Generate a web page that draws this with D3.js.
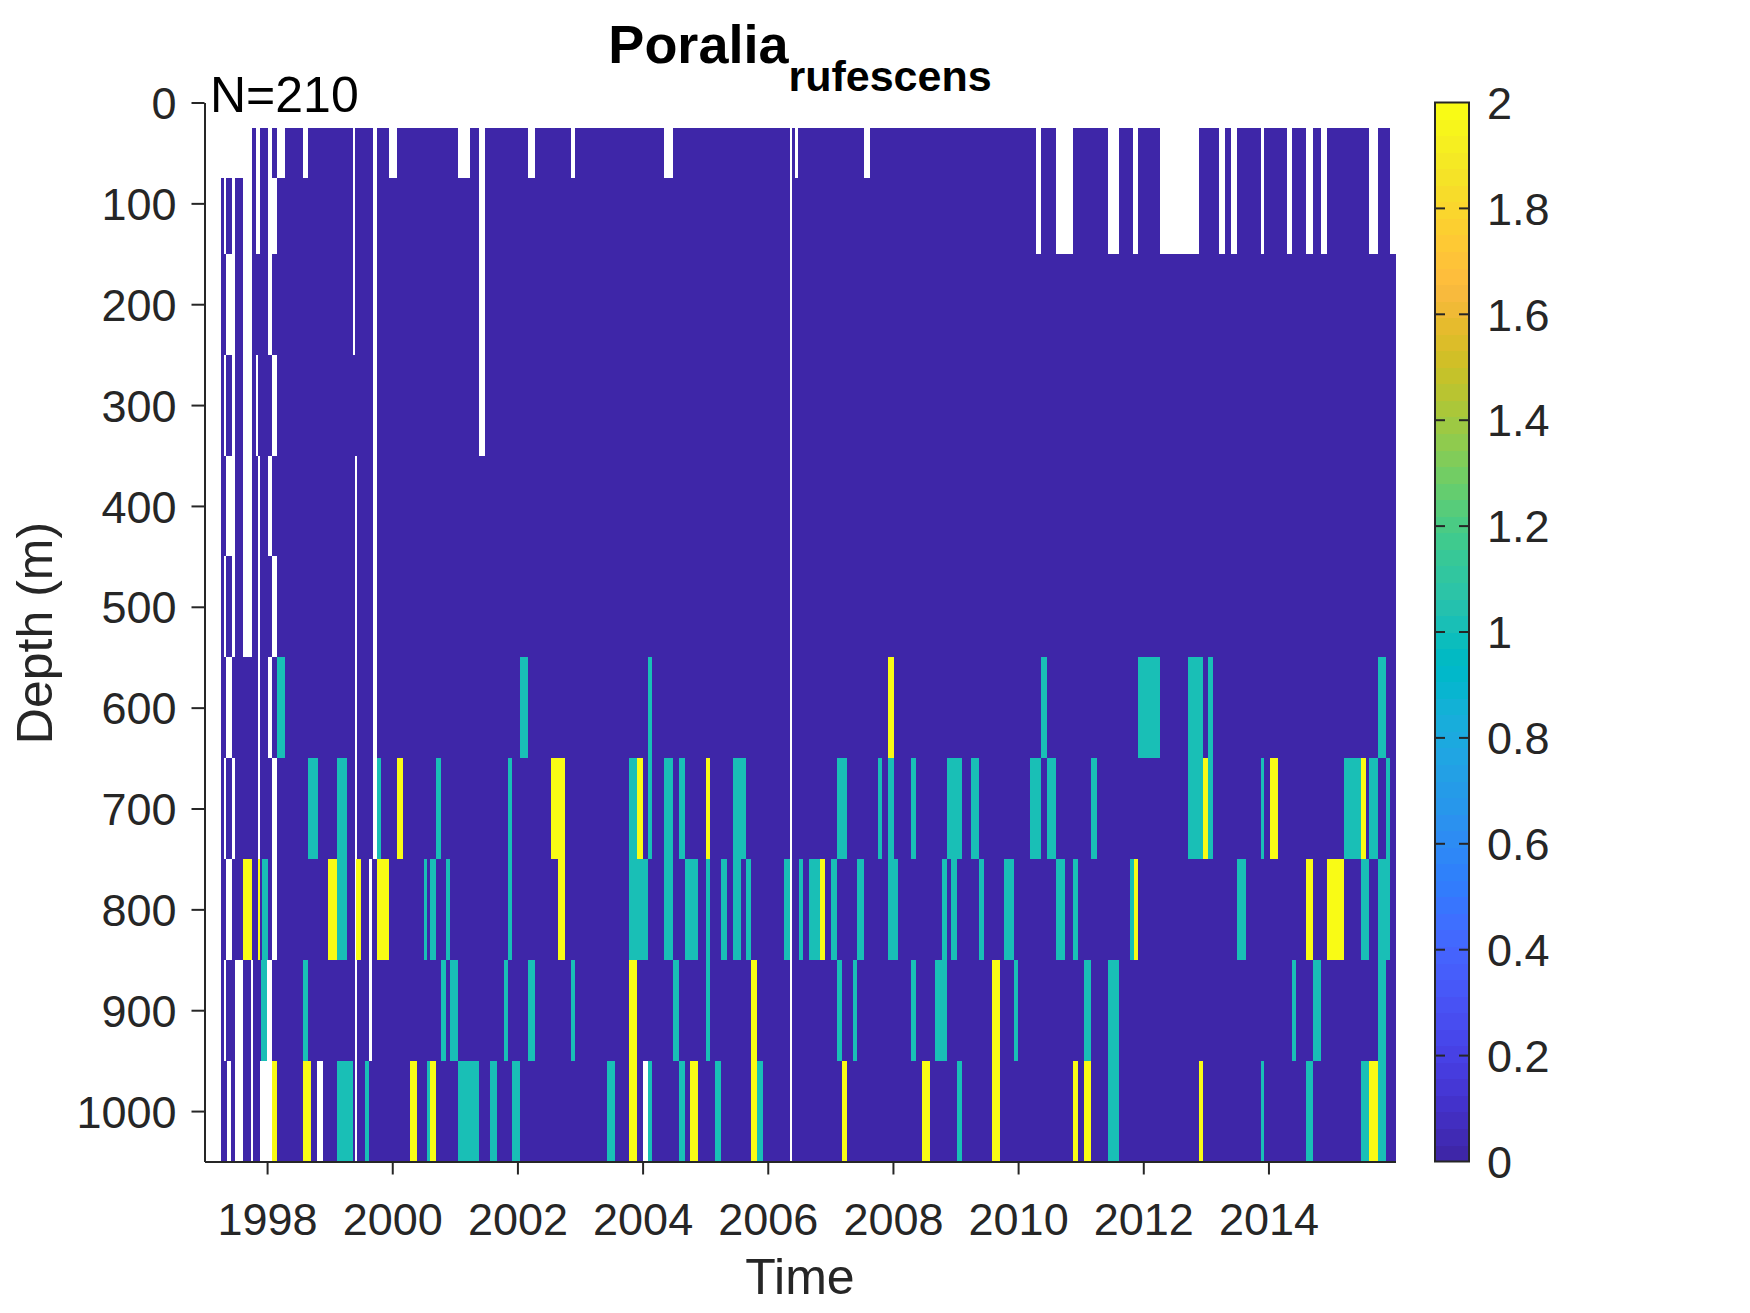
<!DOCTYPE html>
<html><head><meta charset="utf-8">
<script src="https://cdn.jsdelivr.net/npm/d3@7"></script>
<style>body{margin:0;background:#fff}svg{display:block}text{font-family:"Liberation Sans",Arial,Helvetica,sans-serif}</style>
</head><body>
<svg id="chart" width="1750" height="1313"></svg>
<script>
// ---------------- DATA ----------------
const depthEdges = [25,75,150,250,350,450,550,650,750,850,950,1050];
const rowStart = [1997.757,1997.256,1997.256,1997.256,1997.256,1997.256,1997.256,1997.256,1997.256,1997.256,1997.256];
const rowEnd   = [2015.944,2015.944,2016.04,2016.04,2016.04,2016.04,2016.04,2016.04,2016.04,2016.04,2016.04];
// [firstRow, lastRow, t0, t1]  -> no sample (NaN, white)
const noDataGaps = [
 [0,0,1997.816,1997.88],[0,0,1998.013,1998.072],[0,0,1998.152,1998.28],[0,0,1998.573,1998.648],
 [0,2,1999.373,1999.40],[0,7,1999.687,1999.756],[0,0,1999.949,2000.077],
 [0,0,2001.048,2001.24],[0,3,2001.384,2001.48],[0,0,2002.168,2002.28],[0,0,2002.856,2002.92],
 [0,0,2004.344,2004.488],[0,10,2006.35,2006.385],[0,0,2006.44,2006.49],[0,0,2007.544,2007.64],
 [0,1,2010.28,2010.36],[0,1,2010.6,2010.872],[0,1,2011.432,2011.608],[0,1,2011.843,2011.917],
 [0,1,2012.264,2012.888],[0,1,2013.208,2013.304],[0,1,2013.395,2013.496],[0,1,2013.875,2013.928],
 [0,1,2014.29,2014.376],[0,1,2014.6,2014.712],[0,1,2014.84,2014.936],[0,1,2015.608,2015.752],
 [1,1,1997.309,1997.347],[1,1,1997.432,1997.48],[1,1,1997.613,1997.757],[1,1,1997.816,1997.88],[1,1,1998.013,1998.152],
 [2,2,1997.347,1997.48],[2,2,1997.613,1997.757],[2,2,1998.013,1998.072],
 [3,3,1997.309,1997.347],[3,3,1997.432,1997.48],[3,3,1997.613,1997.757],[3,3,1997.816,1997.848],[3,3,1998.072,1998.152],
 [4,4,1997.347,1997.48],[4,4,1997.613,1997.757],[4,4,1997.848,1997.88],[4,4,1998.013,1998.072],
 [5,5,1997.309,1997.347],[5,5,1997.432,1997.48],[5,5,1997.613,1997.757],[5,5,1997.848,1997.88],[5,5,1998.072,1998.152],
 [6,6,1997.347,1997.432],[6,6,1997.848,1997.88],[6,6,1998.013,1998.072],
 [7,7,1997.309,1997.347],[7,7,1997.432,1997.48],[7,7,1997.848,1997.88],[7,7,1998.072,1998.152],
 [8,8,1997.347,1997.432],[8,8,1998.072,1998.152],
 [9,9,1997.309,1997.347],[9,9,1997.48,1997.613],[9,9,1997.747,1997.773],[9,9,1998.003,1998.077],
 [10,10,1997.352,1997.427],[10,10,1997.48,1997.613],[10,10,1997.747,1997.773],[10,10,1997.88,1998.077],[10,10,1998.803,1998.899],
 [4,10,1999.40,1999.437],[8,9,1999.63,1999.677],[10,10,2004.008,2004.083]
];
// [row, t0, t1] cells with value 1
const valueOneCells = [
 [6,1998.152,1998.28],[6,2002.04,2002.163],[6,2004.093,2004.147],[6,2010.36,2010.456],[6,2011.912,2012.264],
 [6,2012.712,2012.952],[6,2013.032,2013.112],[6,2015.752,2015.88],
 [7,1998.648,1998.808],[7,1999.112,1999.272],[7,1999.756,1999.816],[7,2000.696,2000.776],[7,2001.853,2001.907],
 [7,2003.784,2003.912],[7,2004.093,2004.147],[7,2004.344,2004.488],[7,2004.584,2004.68],[7,2005.448,2005.656],
 [7,2007.112,2007.272],[7,2007.768,2007.832],[7,2007.928,2008.024],[7,2008.296,2008.376],[7,2008.856,2009.096],
 [7,2009.24,2009.368],[7,2010.184,2010.36],[7,2010.456,2010.6],[7,2011.16,2011.256],[7,2012.712,2012.952],
 [7,2013.032,2013.112],[7,2013.88,2013.928],[7,2015.208,2015.48],[7,2015.608,2015.752],[7,2015.88,2015.944],
 [8,1997.912,1998.013],[8,1999.112,1999.272],[8,2000.504,2000.563],[8,2000.6,2000.696],[8,2000.856,2000.92],
 [8,2001.853,2001.907],[8,2003.784,2004.088],[8,2004.344,2004.488],[8,2004.68,2004.888],[8,2005.016,2005.08],
 [8,2005.256,2005.352],[8,2005.448,2005.576],[8,2005.656,2005.736],[8,2006.264,2006.349],[8,2006.504,2006.568],
 [8,2006.664,2006.84],[8,2007.016,2007.112],[8,2007.432,2007.544],[8,2007.928,2008.088],[8,2008.776,2008.856],
 [8,2008.92,2009.016],[8,2009.368,2009.448],[8,2009.768,2009.928],[8,2010.6,2010.744],[8,2010.872,2010.952],
 [8,2011.784,2011.848],[8,2013.496,2013.64],[8,2015.48,2015.608],[8,2015.752,2015.944],
 [9,1997.907,1998.003],[9,1998.568,1998.648],[9,2000.776,2000.856],[9,2000.92,2001.048],[9,2001.789,2001.853],
 [9,2002.163,2002.28],[9,2002.856,2002.92],[9,2004.488,2004.584],[9,2005.016,2005.08],[9,2007.112,2007.192],
 [9,2007.368,2007.432],[9,2008.296,2008.376],[9,2008.68,2008.856],[9,2009.928,2009.992],[9,2011.048,2011.16],
 [9,2011.432,2011.608],[9,2014.376,2014.44],[9,2014.712,2014.84],[9,2015.752,2015.88],
 [10,1999.112,1999.373],[10,1999.571,1999.635],[10,2000.557,2000.605],[10,2001.053,2001.384],[10,2001.56,2001.672],
 [10,2001.917,2002.04],[10,2003.432,2003.56],[10,2004.083,2004.147],[10,2004.584,2004.68],[10,2005.16,2005.256],
 [10,2005.832,2005.928],[10,2009.016,2009.096],[10,2011.432,2011.608],[10,2013.88,2013.928],[10,2014.6,2014.712],
 [10,2015.48,2015.608],[10,2015.752,2015.88]
];
// [row, t0, t1] cells with value 2
const valueTwoCells = [
 [6,2007.928,2008.024],
 [7,2000.072,2000.168],[7,2002.536,2002.76],[7,2003.912,2004.008],[7,2005.016,2005.08],[7,2012.952,2013.032],
 [7,2014.024,2014.152],[7,2015.48,2015.56],
 [8,1997.613,1997.757],[8,1997.848,1997.88],[8,1998.968,1999.112],[8,1999.416,1999.496],[8,1999.757,1999.949],
 [8,2002.643,2002.76],[8,2006.84,2006.92],[8,2011.848,2011.912],[8,2014.6,2014.712],[8,2014.936,2015.208],
 [9,2003.784,2003.912],[9,2005.736,2005.832],[9,2009.576,2009.704],
 [10,1998.077,1998.152],[10,1998.573,1998.707],[10,2000.28,2000.392],[10,2000.605,2000.696],[10,2003.784,2003.912],
 [10,2004.76,2004.888],[10,2005.736,2005.832],[10,2007.192,2007.272],[10,2008.472,2008.6],[10,2009.576,2009.704],
 [10,2010.872,2010.952],[10,2011.048,2011.16],[10,2012.888,2012.952],[10,2015.608,2015.752]
];
const xTickYears = [1998,2000,2002,2004,2006,2008,2010,2012,2014];
const yTickDepths = [0,100,200,300,400,500,600,700,800,900,1000];
const cbTicks = [0,0.2,0.4,0.6,0.8,1,1.2,1.4,1.6,1.8,2];
const titleMain = "Poralia", titleSub = "rufescens", nLabel = "N=210";

// ---------------- STYLE ----------------
const parula = [[0.2422,0.1504,0.6603],[0.2504,0.1650,0.7076],[0.2578,0.1818,0.7511],[0.2647,0.1978,0.7952],[0.2706,0.2147,0.8364],[0.2751,0.2342,0.8710],[0.2783,0.2559,0.8991],[0.2803,0.2782,0.9221],[0.2813,0.3006,0.9414],[0.2810,0.3228,0.9579],[0.2795,0.3447,0.9717],[0.2760,0.3667,0.9829],[0.2699,0.3892,0.9906],[0.2602,0.4123,0.9952],[0.2440,0.4358,0.9988],[0.2206,0.4603,0.9973],[0.1963,0.4847,0.9892],[0.1834,0.5074,0.9798],[0.1786,0.5289,0.9682],[0.1764,0.5499,0.9520],[0.1687,0.5703,0.9359],[0.1540,0.5902,0.9218],[0.1460,0.6091,0.9079],[0.1380,0.6276,0.8973],[0.1248,0.6459,0.8883],[0.1113,0.6635,0.8763],[0.0952,0.6798,0.8598],[0.0689,0.6948,0.8394],[0.0297,0.7082,0.8163],[0.0036,0.7203,0.7917],[0.0067,0.7312,0.7660],[0.0433,0.7411,0.7394],[0.0964,0.7500,0.7120],[0.1408,0.7584,0.6842],[0.1717,0.7670,0.6554],[0.1938,0.7758,0.6251],[0.2161,0.7843,0.5923],[0.2470,0.7918,0.5567],[0.2906,0.7973,0.5188],[0.3406,0.8008,0.4789],[0.3909,0.8029,0.4354],[0.4456,0.8024,0.3909],[0.5044,0.7993,0.3480],[0.5616,0.7942,0.3045],[0.6174,0.7876,0.2612],[0.6720,0.7793,0.2227],[0.7242,0.7698,0.1910],[0.7738,0.7598,0.1646],[0.8203,0.7498,0.1535],[0.8634,0.7406,0.1596],[0.9035,0.7330,0.1774],[0.9393,0.7288,0.2100],[0.9728,0.7298,0.2394],[0.9956,0.7434,0.2371],[0.9970,0.7659,0.2199],[0.9952,0.7893,0.2028],[0.9892,0.8136,0.1885],[0.9786,0.8386,0.1766],[0.9676,0.8639,0.1643],[0.9610,0.8890,0.1537],[0.9597,0.9135,0.1423],[0.9628,0.9373,0.1265],[0.9691,0.9606,0.1064],[0.9769,0.9839,0.0805]]
 .map(c => d3.rgb(c[0]*255, c[1]*255, c[2]*255).formatHex());
const cmap = d3.scaleQuantize().domain([0,2]).range(parula);
const colorOf = v => v >= 2 ? parula[63] : cmap(v);

const axisColor = "#262626";
const FONT = '"Liberation Sans",Arial,sans-serif';
const svg = d3.select("#chart");
const x = d3.scaleLinear().domain([1997, 2016.03]).range([204.5, 1395.5]);
const y = d3.scaleLinear().domain([0, 1050]).range([102.5, 1161.5]);

const cells = svg.append("g").attr("shape-rendering","crispEdges");
cells.selectAll("rect.base").data(d3.range(depthEdges.length-1)).join("rect")
 .attr("x", r => x(rowStart[r])).attr("width", r => x(rowEnd[r]) - x(rowStart[r]))
 .attr("y", r => y(depthEdges[r])).attr("height", r => y(depthEdges[r+1]) - y(depthEdges[r]))
 .attr("fill", colorOf(0));
cells.selectAll("rect.gap").data(noDataGaps).join("rect")
 .attr("x", d => x(d[2])).attr("width", d => x(d[3]) - x(d[2]))
 .attr("y", d => y(depthEdges[d[0]])).attr("height", d => y(depthEdges[d[1]+1]) - y(depthEdges[d[0]]))
 .attr("fill", "#ffffff");
const valued = valueOneCells.map(d => [...d, 1]).concat(valueTwoCells.map(d => [...d, 2]));
cells.selectAll("rect.val").data(valued).join("rect")
 .attr("x", d => x(d[1])).attr("width", d => x(d[2]) - x(d[1]))
 .attr("y", d => y(depthEdges[d[0]])).attr("height", d => y(depthEdges[d[0]+1]) - y(depthEdges[d[0]]))
 .attr("fill", d => colorOf(d[3]));

// axes
const xAxis = d3.axisBottom(x).tickValues(xTickYears).tickFormat(d3.format("d")).tickSize(13).tickSizeOuter(0);
const gx = svg.append("g").attr("transform", `translate(0,${y(1050)})`).call(xAxis);
const yAxis = d3.axisLeft(y).tickValues(yTickDepths).tickFormat(d3.format("d")).tickSize(13).tickSizeOuter(0);
const gy = svg.append("g").attr("transform", `translate(${x(1997)},0)`).call(yAxis);
[gx, gy].forEach(g => {
  g.select(".domain").attr("stroke", axisColor).attr("stroke-width", 2);
  g.selectAll(".tick line").attr("stroke", axisColor).attr("stroke-width", 2);
  g.selectAll(".tick text").attr("fill", axisColor).attr("font-size", 45).attr("font-family", FONT);
});
gx.selectAll(".tick text").attr("dy", "0").attr("y", 73);
gy.selectAll(".tick text").attr("x", -28).attr("dy", "0.36em");

// axis labels
svg.append("text").attr("x", 800).attr("y", 1294).attr("text-anchor","middle").attr("font-size", 50).attr("fill", axisColor).text("Time");
svg.append("text").attr("transform","translate(52,633) rotate(-90)").attr("text-anchor","middle").attr("font-size", 50).attr("fill", axisColor).text("Depth (m)");
// title
const title = svg.append("text").attr("x", 800).attr("y", 63).attr("text-anchor","middle").attr("font-weight","bold").attr("font-size", 54).attr("fill","#000");
title.append("tspan").text(titleMain);
title.append("tspan").attr("font-size", 43).attr("dy", 28).text(titleSub);
svg.append("text").attr("x", 210).attr("y", 112).attr("font-size", 50).attr("fill","#000").text(nLabel);

// colorbar
const cb = d3.scaleLinear().domain([0,2]).range([1161.5, 102.5]);
const cbX = 1435, cbW = 34;
const cbG = svg.append("g");
cbG.append("g").attr("shape-rendering","crispEdges").selectAll("rect").data(d3.range(64)).join("rect")
 .attr("x", cbX).attr("width", cbW)
 .attr("y", i => cb((i+1)/32)).attr("height", i => cb(i/32) - cb((i+1)/32) + 0.6)
 .attr("fill", i => parula[i]);
cbG.append("rect").attr("x", cbX).attr("y", cb(2)).attr("width", cbW).attr("height", cb(0)-cb(2))
 .attr("fill","none").attr("stroke", axisColor).attr("stroke-width", 2);
cbG.selectAll("line.l").data(cbTicks.slice(1,-1)).join("line")
 .attr("x1", cbX).attr("x2", cbX+10).attr("y1", d => cb(d)).attr("y2", d => cb(d)).attr("stroke", axisColor).attr("stroke-width", 2);
cbG.selectAll("line.r").data(cbTicks.slice(1,-1)).join("line")
 .attr("x1", cbX+cbW-10).attr("x2", cbX+cbW).attr("y1", d => cb(d)).attr("y2", d => cb(d)).attr("stroke", axisColor).attr("stroke-width", 2);
cbG.selectAll("text").data(cbTicks).join("text")
 .attr("x", 1487).attr("y", d => cb(d)).attr("dy","0.36em").attr("font-size", 45).attr("fill", axisColor)
 .text(d => d3.format("~g")(d));
</script>
</body></html>
